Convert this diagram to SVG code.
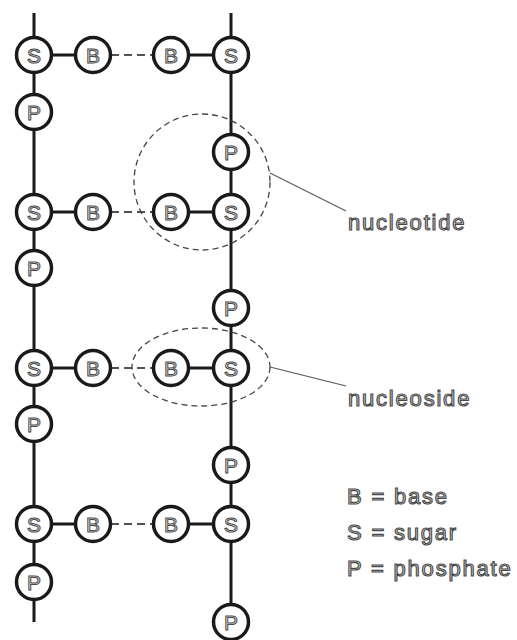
<svg xmlns="http://www.w3.org/2000/svg" width="517" height="640" viewBox="0 0 517 640">
  <style>
    .bb { fill: none; stroke: #1a1a1a; stroke-width: 3; }
    .hb { fill: none; stroke: #1a1a1a; stroke-width: 1.5; stroke-dasharray: 8 5; }
    .ring { fill: #ffffff; stroke: #1a1a1a; stroke-width: 3.5; }
    .glyph { font-family: "Liberation Sans", Arial, sans-serif; font-size: 21px; text-anchor: middle; fill: #e4e4e4; stroke: #4a4a4a; stroke-width: 1; }
    .group { fill: none; stroke: #444; stroke-width: 1.3; stroke-dasharray: 6 4; }
    .lead { fill: none; stroke: #555; stroke-width: 1.1; }
    .lbl { font-family: "Liberation Sans", Arial, sans-serif; font-size: 22px; letter-spacing: 1.8px; fill: #cfcfcf; stroke: #4a4a4a; stroke-width: 1.1; }
  </style>
  <defs>
    <g id="base"><circle class="ring" r="17.5"/><text class="glyph" y="7.5">B</text></g>
    <g id="sugar"><circle class="ring" r="17.5"/><text class="glyph" y="7.5">S</text></g>
    <g id="phos"><circle class="ring" r="17.5"/><text class="glyph" y="7.5">P</text></g>
  </defs>
  <rect width="517" height="640" fill="#ffffff"/>

  <!-- backbones, bonds and groupings -->
  <g id="connectors">
    <line class="bb" x1="34" y1="13" x2="34" y2="622"/>
    <line class="bb" x1="231" y1="13" x2="231" y2="620"/>
    <line class="bb" x1="34" y1="55" x2="93" y2="55"/>
    <line class="bb" x1="171" y1="55" x2="231" y2="55"/>
    <line class="hb" x1="111" y1="55" x2="153" y2="55"/>
    <line class="bb" x1="34" y1="212" x2="93" y2="212"/>
    <line class="bb" x1="171" y1="212" x2="231" y2="212"/>
    <line class="hb" x1="111" y1="212" x2="153" y2="212"/>
    <line class="bb" x1="34" y1="368" x2="93" y2="368"/>
    <line class="bb" x1="171" y1="368" x2="231" y2="368"/>
    <line class="hb" x1="111" y1="368" x2="153" y2="368"/>
    <line class="bb" x1="34" y1="524" x2="93" y2="524"/>
    <line class="bb" x1="171" y1="524" x2="231" y2="524"/>
    <line class="hb" x1="111" y1="524" x2="153" y2="524"/>
    <circle class="group" cx="202" cy="182" r="68"/>
    <ellipse class="group" cx="201" cy="367" rx="69" ry="39"/>
    <line class="lead" x1="270" y1="173" x2="346" y2="211"/>
    <line class="lead" x1="270" y1="367" x2="346" y2="386"/>
  </g>

  <!-- left strand -->
  <g id="s1"><use href="#sugar" x="34" y="55"/></g>
  <g id="b1"><use href="#base" x="93" y="55"/></g>
  <g id="p1"><use href="#phos" x="34" y="112"/></g>
  <g id="s2"><use href="#sugar" x="34" y="212"/></g>
  <g id="b2"><use href="#base" x="93" y="212"/></g>
  <g id="p2"><use href="#phos" x="34" y="268"/></g>
  <g id="s3"><use href="#sugar" x="34" y="368"/></g>
  <g id="b3"><use href="#base" x="93" y="368"/></g>
  <g id="p3"><use href="#phos" x="34" y="424"/></g>
  <g id="s4"><use href="#sugar" x="34" y="524"/></g>
  <g id="b4"><use href="#base" x="93" y="524"/></g>
  <g id="p4"><use href="#phos" x="34" y="582"/></g>

  <!-- right strand -->
  <g id="s5"><use href="#sugar" x="231" y="55"/></g>
  <g id="b5"><use href="#base" x="171" y="55"/></g>
  <g id="p5"><use href="#phos" x="231" y="152"/></g>
  <g id="s6"><use href="#sugar" x="231" y="212"/></g>
  <g id="b6"><use href="#base" x="171" y="212"/></g>
  <g id="p6"><use href="#phos" x="231" y="308"/></g>
  <g id="s7"><use href="#sugar" x="231" y="368"/></g>
  <g id="b7"><use href="#base" x="171" y="368"/></g>
  <g id="p7"><use href="#phos" x="231" y="465"/></g>
  <g id="s8"><use href="#sugar" x="231" y="524"/></g>
  <g id="b8"><use href="#base" x="171" y="524"/></g>
  <g id="p8"><use href="#phos" x="231" y="622"/></g>

  <!-- labels -->
  <g id="label-nucleotide"><text class="lbl" x="348" y="230">nucleotide</text></g>
  <g id="label-nucleoside"><text class="lbl" x="348" y="406">nucleoside</text></g>

  <!-- key -->
  <g id="legend">
    <text class="lbl" x="347" y="504">B = base</text>
    <text class="lbl" x="347" y="540">S = sugar</text>
    <text class="lbl" x="347" y="576">P = phosphate</text>
  </g>
</svg>
